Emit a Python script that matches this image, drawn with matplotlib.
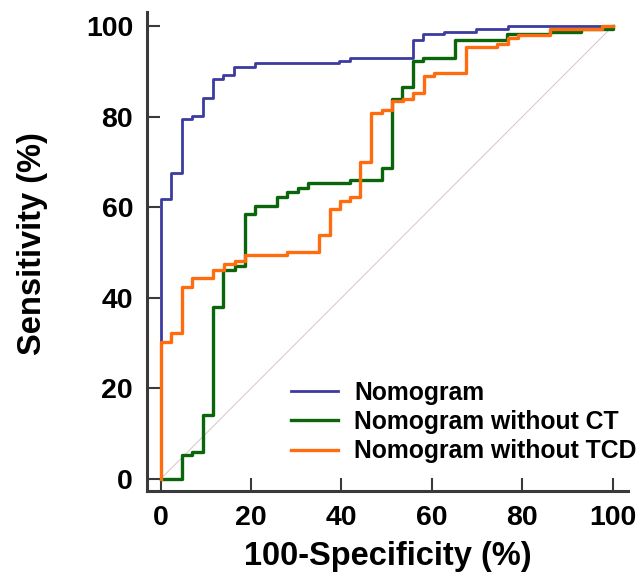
import numpy as np
import matplotlib.pyplot as plt

plt.rcParams['font.family'] = ['Liberation Sans', 'DejaVu Sans']
plt.rcParams['font.weight'] = 'bold'

# ROC corner points (100-specificity, sensitivity), drawn as steps-post
fpr_full = [0, 0, 2.4, 4.7, 7.0, 9.3, 11.6, 13.9, 16.3, 20.9, 39.5, 41.9,
            55.8, 58.1, 62.8, 69.8, 76.8, 100]
tpr_full = [0, 61.9, 67.5, 79.6, 80.2, 84.1, 88.4, 89.2, 91.1, 91.8, 92.3, 92.9,
            96.9, 98.2, 98.8, 99.4, 100, 100]

fpr_no_ct = [0, 4.7, 7.0, 9.3, 11.6, 13.9, 16.4, 18.7, 20.9, 25.7, 27.9, 30.3,
             32.6, 41.9, 48.9, 51.2, 53.5, 55.8, 58.1, 65.2, 76.7, 86.2, 93.1, 100, 100]
tpr_no_ct = [0, 5.3, 6.0, 14.2, 37.9, 46.2, 47.1, 58.5, 60.3, 62.3, 63.4, 64.2,
             65.5, 66.0, 68.6, 84.0, 86.6, 92.4, 92.9, 96.9, 98.2, 98.8, 99.4, 99.4, 100]

fpr_no_tcd = [0, 0, 2.4, 4.7, 7.0, 11.6, 14.0, 16.4, 18.7, 27.9, 35.0, 37.4,
              39.6, 41.9, 44.2, 46.5, 48.9, 51.2, 53.6, 55.9, 58.2, 60.5, 67.5,
              74.5, 76.8, 79.1, 86.1, 97.6, 100]
tpr_no_tcd = [0, 30.2, 32.2, 42.4, 44.3, 46.2, 47.5, 48.2, 49.4, 50.1, 53.9, 59.6,
              61.5, 62.3, 70.0, 80.8, 81.5, 83.4, 84.0, 85.2, 89.1, 89.7, 95.5,
              96.1, 97.5, 98.1, 99.5, 100, 100]

labels = ["Nomogram", "Nomogram without CT", "Nomogram without TCD"]
colors = ["#3b3ba0", "#0b650b", "#ff6c10"]

fig = plt.figure(figsize=(6.42, 5.85), dpi=100)
ax = fig.add_axes([147 / 642, 1 - 491 / 585, 481 / 642, (491 - 12.3) / 585])

ax.plot([0, 100], [0, 100], color="#d6c4c8", lw=0.7, zorder=1)
ax.plot(fpr_full, tpr_full, drawstyle="steps-post", color=colors[0], lw=2.0, label=labels[0])
ax.plot(fpr_no_ct, tpr_no_ct, drawstyle="steps-post", color=colors[1], lw=2.4, label=labels[1])
ax.plot(fpr_no_tcd, tpr_no_tcd, drawstyle="steps-post", color=colors[2], lw=2.4, label=labels[2])

ax.set_xlim(-3.0, 103.4)
ax.set_ylim(-2.65, 103.1)
ax.set_xticks(np.arange(0, 101, 20))
ax.set_yticks(np.arange(0, 101, 20))
for s in ["top", "right"]:
    ax.spines[s].set_visible(False)
for s in ["left", "bottom"]:
    ax.spines[s].set_linewidth(2.2)
    ax.spines[s].set_color("#3a3a3a")
ax.tick_params(direction="in", length=9.5, width=1.5, color="#3a3a3a",
               labelsize=20.5, pad=10)

ax.set_xlabel("100-Specificity (%)", fontsize=23.5, fontweight="bold", labelpad=7)
ax.set_ylabel("Sensitivity (%)", fontsize=23.5, fontweight="bold", labelpad=27)
ax.yaxis.label.set_y(0.517)

ax.legend(loc="lower left", bbox_to_anchor=(0.278, 0.037), frameon=False,
          fontsize=17.8, handlelength=1.9, handletextpad=0.68, labelspacing=0.22,
          borderaxespad=0)

fig.savefig("out.png", dpi=100)
